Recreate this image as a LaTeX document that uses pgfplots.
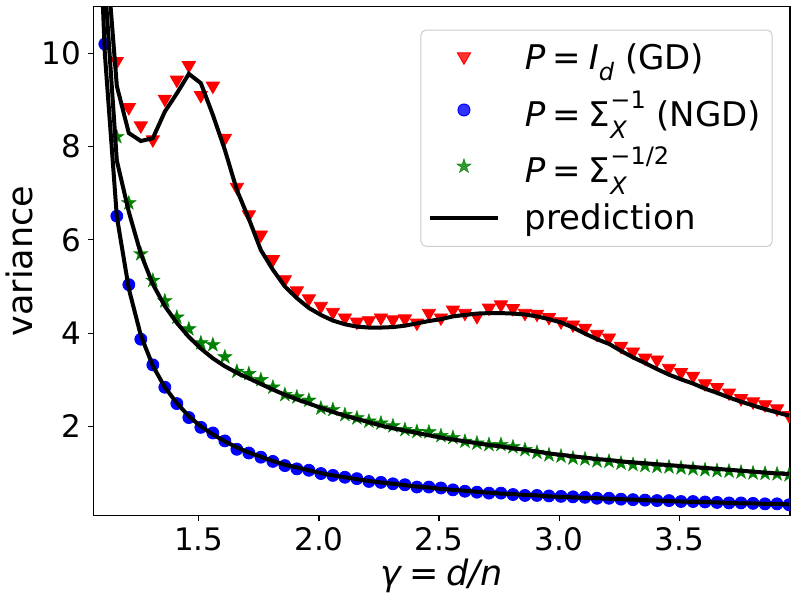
\documentclass[border=0pt]{standalone}
\usepackage{fontspec}
\setmainfont{DejaVu Sans}
\usepackage{pgfplots}
\pgfplotsset{compat=1.18}
\usepackage{pgfplotstable}

\pgfdeclareplotmark{fstar}{%
  \pgfpathmoveto{\pgfpointpolar{90}{\pgfplotmarksize}}%
  \pgfpathlineto{\pgfpointpolar{126}{0.382\pgfplotmarksize}}%
  \pgfpathlineto{\pgfpointpolar{162}{\pgfplotmarksize}}%
  \pgfpathlineto{\pgfpointpolar{198}{0.382\pgfplotmarksize}}%
  \pgfpathlineto{\pgfpointpolar{234}{\pgfplotmarksize}}%
  \pgfpathlineto{\pgfpointpolar{270}{0.382\pgfplotmarksize}}%
  \pgfpathlineto{\pgfpointpolar{306}{\pgfplotmarksize}}%
  \pgfpathlineto{\pgfpointpolar{342}{0.382\pgfplotmarksize}}%
  \pgfpathlineto{\pgfpointpolar{18}{\pgfplotmarksize}}%
  \pgfpathlineto{\pgfpointpolar{54}{0.382\pgfplotmarksize}}%
  \pgfpathclose
  \pgfusepathqfillstroke}

\newcommand{\supsub}[2]{\rlap{\raisebox{-0.36em}{\fontsize{12}{14}\selectfont #2}}\raisebox{0.52em}{\fontsize{12}{14}\selectfont #1}}
\newcommand{\eqs}{\hspace{0.22em}=\hspace{0.22em}}

\pgfplotstableread{
x gd ngd half gdL ngdL halfL
1.090 nan nan nan nan 12.3 nan
1.108 nan 10.2 nan 12.57 10.0 11.5
1.158 9.79 6.51 8.21 9.30 6.50 7.70
1.208 8.80 5.04 6.79 8.29 4.95 6.60
1.258 8.41 3.87 5.70 8.12 3.95 5.70
1.308 8.11 3.32 5.13 8.18 3.30 5.05
1.358 8.98 2.84 4.69 8.75 2.84 4.58
1.408 9.39 2.49 4.34 9.14 2.50 4.22
1.458 9.70 2.19 4.09 9.56 2.22 3.92
1.508 9.06 1.98 3.79 9.36 2.00 3.67
1.558 9.26 1.86 3.75 8.68 1.83 3.46
1.608 8.14 1.69 3.49 7.93 1.68 3.29
1.658 7.09 1.51 3.18 7.07 1.55 3.15
1.708 6.50 1.43 3.13 6.45 1.44 3.03
1.758 6.07 1.34 3.00 5.78 1.35 2.91
1.808 5.54 1.25 2.84 5.36 1.26 2.79
1.858 5.11 1.16 2.68 5.00 1.18 2.68
1.908 4.87 1.09 2.63 4.75 1.12 2.58
1.958 4.70 1.06 2.56 4.54 1.06 2.49
2.008 4.54 0.99 2.39 4.39 1.00 2.40
2.058 4.41 0.95 2.36 4.27 0.95 2.31
2.108 4.29 0.91 2.25 4.19 0.91 2.23
2.158 4.20 0.88 2.18 4.14 0.87 2.16
2.208 4.23 0.82 2.11 4.12 0.83 2.09
2.258 4.29 0.80 2.07 4.12 0.80 2.02
2.308 4.25 0.77 2.01 4.13 0.77 1.96
2.358 4.27 0.75 1.93 4.16 0.74 1.91
2.408 4.18 0.70 1.89 4.21 0.71 1.86
2.458 4.39 0.70 1.88 4.26 0.69 1.81
2.508 4.29 0.68 1.80 4.30 0.66 1.76
2.558 4.46 0.64 1.76 4.36 0.64 1.72
2.608 4.39 0.61 1.68 4.39 0.62 1.68
2.658 4.32 0.59 1.64 4.42 0.60 1.64
2.708 4.50 0.57 1.61 4.43 0.58 1.60
2.758 4.57 0.57 1.61 4.43 0.56 1.57
2.808 4.49 0.54 1.56 4.42 0.55 1.53
2.858 4.39 0.52 1.50 4.40 0.53 1.50
2.908 4.37 0.52 1.44 4.36 0.52 1.46
2.958 4.30 0.51 1.39 4.30 0.50 1.42
3.008 4.21 0.50 1.36 4.23 0.49 1.39
3.058 4.14 0.49 1.32 4.12 0.48 1.36
3.108 4.07 0.48 1.30 3.99 0.47 1.33
3.158 3.94 0.46 1.26 3.87 0.46 1.30
3.208 3.86 0.46 1.25 3.77 0.45 1.28
3.258 3.68 0.44 1.21 3.62 0.44 1.25
3.308 3.56 0.43 1.18 3.48 0.43 1.23
3.358 3.43 0.42 1.16 3.36 0.42 1.21
3.408 3.39 0.41 1.14 3.23 0.41 1.19
3.458 3.21 0.41 1.13 3.11 0.40 1.17
3.508 3.12 0.39 1.11 3.01 0.39 1.15
3.558 3.04 0.39 1.09 2.92 0.38 1.13
3.608 2.88 0.38 1.07 2.81 0.38 1.11
3.658 2.80 0.37 1.05 2.72 0.37 1.09
3.708 2.68 0.36 1.04 2.62 0.36 1.07
3.758 2.56 0.36 1.02 2.53 0.35 1.05
3.808 2.49 0.35 1.00 2.45 0.35 1.03
3.858 2.43 0.34 0.99 2.37 0.34 1.01
3.908 2.34 0.34 0.98 2.30 0.34 0.99
3.958 2.20 0.32 0.96 2.23 0.33 0.98
}\datatable

\begin{document}
\begin{tikzpicture}
\begin{axis}[
  at={(0,0)}, anchor=south west,
  scale only axis,
  width=348.35pt, height=254.4pt,
  xmin=1.06, xmax=3.962,
  ymin=0.09, ymax=11,
  xtick={1.5,2,2.5,3,3.5},
  ytick={2,4,6,8,10},
  xticklabel style={/pgf/number format/.cd,fixed,fixed zerofill,precision=1},
  /pgf/number format/assume math mode=true,
  tick label style={font=\fontsize{15.5}{18}\selectfont},
  tick align=outside,
  xtick pos=lower, ytick pos=left,
  major tick length=2.5pt,
  every tick/.style={black, line width=0.55pt},
  axis line style={black, line width=0.55pt},
  clip marker paths=true,
  xlabel={\itshape γ\eqs d/n},
  ylabel={variance},
  label style={font=\fontsize{17.5}{20}\selectfont},
  xlabel style={at={(axis description cs:0.5,0)}, anchor=base, yshift=-34.75pt},
  ylabel style={at={(axis description cs:-0.0866,0.5)}, anchor=base, rotate=0},
  legend image code/.code={\draw[mark repeat=2,mark phase=2,#1] plot coordinates {(0pt,0pt) (17pt,0pt) (34pt,0pt)};},
  legend cell align=left,
  legend style={at={(0.975,0.955)}, anchor=north east,
    draw=black!20, line width=0.5pt, rounded corners=2.5pt,
    fill=white, fill opacity=0.8, text opacity=1,
    font=\fontsize{17}{20}\selectfont,
    inner xsep=3.5pt, inner ysep=5pt,
    row sep=5pt,
    /tikz/every odd column/.append style={column sep=10.5pt}},
]
\addplot[only marks, mark=triangle*, mark size=3.8pt, color=red,
  mark options={yshift=0.95pt,rotate=180, fill=red, draw=red}]
  table[x=x, y=gd] {\datatable};
\addlegendentry{{\itshape P}\eqs{\itshape I}\raisebox{-0.3em}{\fontsize{12}{14}\selectfont\itshape d} (GD)}
\addplot[only marks, mark=*, mark size=3pt, color=blue,
  mark options={fill=blue, draw=blue}]
  table[x=x, y=ngd] {\datatable};
\addlegendentry{{\itshape P}\eqs Σ\supsub{−1}{\itshape X} (NGD)}
\addplot[only marks, mark=fstar, mark size=3.8pt, color=green!50!black,
  mark options={fill=green!50!black, draw=green!50!black, line width=0.2pt}]
  table[x=x, y=half] {\datatable};
\addlegendentry{{\itshape P}\eqs Σ\supsub{−1/2}{\itshape X}}
\addplot[black, line width=2pt, no marks] table[x=x, y=gdL] {\datatable};
\addlegendentry{prediction}
\addplot[black, line width=2pt, no marks, forget plot] table[x=x, y=ngdL] {\datatable};
\addplot[black, line width=2pt, no marks, forget plot] table[x=x, y=halfL] {\datatable};
\end{axis}
\pgfresetboundingbox
\path[use as bounding box] (-46.65pt,-42.25pt) rectangle (351.85pt,257.75pt);
\end{tikzpicture}
\end{document}
